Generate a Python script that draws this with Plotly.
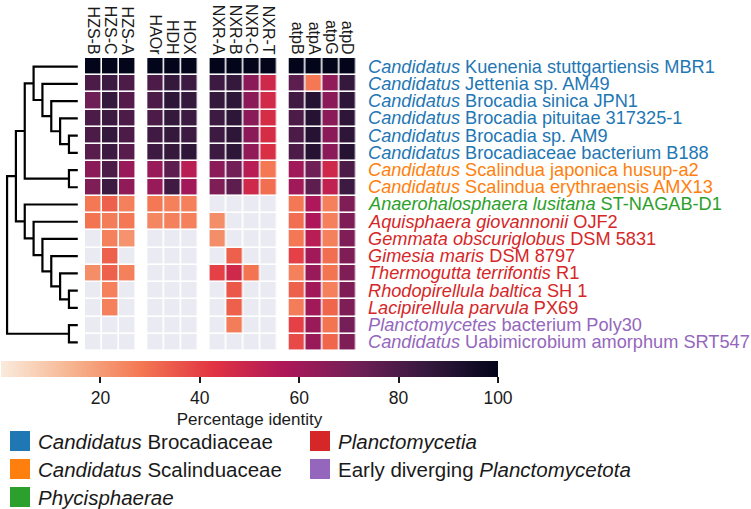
import plotly.graph_objects as go

W, H = 751, 509
N = None

# ---------------- data ----------------
species = [
    "<i>Candidatus</i> Kuenenia stuttgartiensis MBR1",
    "<i>Candidatus</i> Jettenia sp. AM49",
    "<i>Candidatus</i> Brocadia sinica JPN1",
    "<i>Candidatus</i> Brocadia pituitae 317325-1",
    "<i>Candidatus</i> Brocadia sp. AM9",
    "<i>Candidatus</i> Brocadiaceae bacterium B188",
    "<i>Candidatus</i> Scalindua japonica husup-a2",
    "<i>Candidatus</i> Scalindua erythraensis AMX13",
    "<i>Anaerohalosphaera lusitana</i> ST-NAGAB-D1",
    "<i>Aquisphaera giovannonii</i> OJF2",
    "<i>Gemmata obscuriglobus</i> DSM 5831",
    "<i>Gimesia maris</i> DSM 8797",
    "<i>Thermogutta terrifontis</i> R1",
    "<i>Rhodopirellula baltica</i> SH 1",
    "<i>Lacipirellula parvula</i> PX69",
    "<i>Planctomycetes</i> bacterium Poly30",
    "<i>Candidatus</i> Uabimicrobium amorphum SRT547",
]
species_group = [0, 0, 0, 0, 0, 0, 1, 1, 2, 3, 3, 3, 3, 3, 3, 4, 4]

group_names = [
    "<i>Candidatus</i> Brocadiaceae",
    "<i>Candidatus</i> Scalinduaceae",
    "<i>Phycisphaerae</i>",
    "<i>Planctomycetia</i>",
    "Early diverging <i>Planctomycetota</i>",
]
group_colors = ["#1f77b4", "#ff7f0e", "#2ca02c", "#d62728", "#9467bd"]

hzs_genes = ["HZS-B", "HZS-C", "HZS-A"]
hdh_genes = ["HAOr", "HDH", "HOX"]
nxr_genes = ["NXR-A", "NXR-B", "NXR-C", "NXR-T"]
atp_genes = ["atpB", "atpA", "atpG", "atpD"]

hzs_values = [
    [100, 100, 100], [80, 84, 80], [72, 86, 78], [80, 84, 80], [80, 86, 80],
    [77, 84, 77], [65, 80, 62], [68, 84, 64], [28, 33, 26], [29, 27, 28],
    [N, 26, 22], [N, 33, N], [23, 33, 26], [N, 26, N], [N, 26, N],
    [N, N, N], [N, N, N],
]
hdh_values = [
    [100, 100, 100], [80, 86, 84], [80, 88, 86], [80, 86, 84], [83, 86, 84],
    [84, 86, 88], [62, 76, 54], [62, 83, 60], [28, 26, 26], [25, 26, 26],
    [N, N, N], [N, N, N], [N, N, N], [N, N, N], [N, N, N],
    [N, N, N], [N, N, N],
]
nxr_values = [
    [100, 100, 100, 100], [84, 86, 65, 48], [86, 88, 65, 47], [84, 88, 65, 46],
    [84, 88, 65, 46], [84, 88, 64, 45], [65, 71, 54, 28], [68, 76, 48, 30],
    [N, N, N, N], [23, N, N, N], [23, N, N, N], [N, 33, N, N],
    [40, 48, 29, N], [N, 35, N, N], [N, 33, N, N], [N, 27, N, N],
    [N, N, N, N],
]
atp_values = [
    [100, 100, 100, 100], [76, 28, 64, 86], [83, 90, 65, 88], [80, 90, 65, 88],
    [80, 90, 65, 88], [80, 90, 65, 90], [60, 72, 48, 80], [60, 76, 52, 84],
    [28, 57, 26, 68], [30, 57, 26, 68], [28, 54, 26, 68], [40, 60, 30, 68],
    [26, 62, 29, 68], [33, 60, 26, 68], [27, 60, 32, 68], [40, 62, 29, 70],
    [38, 62, 32, 68],
]

# dendrogram merges: (left, right, level); leaves are 0..16, new nodes 17..
tree_merges = [
    (4, 5, 1), (3, 17, 2), (2, 18, 3), (1, 19, 4), (0, 20, 5),
    (6, 7, 1), (21, 22, 6),
    (13, 14, 1), (12, 24, 2), (11, 25, 3), (10, 26, 4), (9, 27, 5), (8, 28, 6),
    (23, 29, 7), (15, 16, 1), (30, 31, 8),
]

colorbar_ticks = [20, 40, 60, 80, 100]

# ---------------- styling ----------------
FONT = "Liberation Sans, Arial, Helvetica, sans-serif"
rocket_r = [
    [0.0, "#faebdd"], [1 / 7, "#f6b48f"], [2 / 7, "#f37651"], [3 / 7, "#e13342"],
    [4 / 7, "#ad1759"], [5 / 7, "#701f57"], [6 / 7, "#35193e"], [1.0, "#03051a"],
]
NAN_COLOR = "#eaeaf2"


def px_x(p):
    return p / W


def px_y(p):
    return 1 - p / H


TOP, BOTTOM = 58, 351
CELL = 16.9
GAP = 11.5
X0 = 85

fig = go.Figure()
blocks = [(hzs_genes, hzs_values), (hdh_genes, hdh_values),
          (nxr_genes, nxr_values), (atp_genes, atp_values)]
nrow = len(species)
start = X0
layout_axes = {}
for bi, (genes, vals) in enumerate(blocks):
    xname = "x" if bi == 0 else f"x{bi + 1}"
    axkey = "xaxis" if bi == 0 else f"xaxis{bi + 1}"
    ncol = len(genes)
    end = start + ncol * CELL
    cols = list(range(ncol))
    rows = list(range(nrow))
    fig.add_trace(go.Heatmap(
        z=[[1] * ncol for _ in rows], x=cols, y=rows,
        colorscale=[[0, NAN_COLOR], [1, NAN_COLOR]], showscale=False,
        xgap=1.6, ygap=1.6, hoverinfo="skip", xaxis=xname, yaxis="y"))
    fig.add_trace(go.Heatmap(
        z=vals, x=cols, y=rows, coloraxis="coloraxis",
        xgap=1.6, ygap=1.6, xaxis=xname, yaxis="y",
        hovertemplate="%{z}<extra></extra>"))
    layout_axes[axkey] = dict(
        domain=[px_x(start), px_x(end)], range=[-0.5, ncol - 0.5],
        anchor="y", side="top", tickmode="array", tickvals=cols, ticktext=genes,
        tickangle=90, ticks="", showgrid=False, zeroline=False, showline=False,
        tickfont=dict(size=16, color="#1a1a1a", family=FONT), fixedrange=True)
    start = end + GAP

# dendrogram
pos_y = {i: float(i) for i in range(nrow)}
lev = {i: 0.0 for i in range(nrow)}
dx, dy = [], []
for k, (a, b, h) in enumerate(tree_merges):
    node = nrow + k
    dx += [lev[a], h, h, lev[b], None]
    dy += [pos_y[a], pos_y[a], pos_y[b], pos_y[b], None]
    pos_y[node] = (pos_y[a] + pos_y[b]) / 2
    lev[node] = h
fig.add_trace(go.Scatter(x=dx, y=dy, mode="lines", xaxis="x5", yaxis="y",
                         line=dict(color="black", width=2.2), hoverinfo="skip",
                         showlegend=False))
layout_axes["xaxis5"] = dict(domain=[0, px_x(80)], range=[8.8, -0.25], visible=False,
                             anchor="y", fixedrange=True)

annotations = []
for i, name in enumerate(species):
    annotations.append(dict(
        x=px_x(366), xref="paper", y=i, yref="y", xanchor="left", yanchor="middle",
        text=name, showarrow=False,
        font=dict(size=18.2, color=group_colors[species_group[i]], family=FONT)))

# group legend
shapes = []
for gi, (gname, gcol) in enumerate(zip(group_names, group_colors)):
    col = 0 if gi < 3 else 1
    row = gi if gi < 3 else gi - 3
    sx = 10 if col == 0 else 310
    cy = 441 + row * 28
    shapes.append(dict(type="rect", xref="paper", yref="paper",
                       x0=px_x(sx), x1=px_x(sx + 20), y0=px_y(cy + 10), y1=px_y(cy - 10),
                       fillcolor=gcol, line=dict(width=0)))
    annotations.append(dict(x=px_x(sx + 26), y=px_y(cy), xref="paper", yref="paper",
                            xanchor="left", yanchor="middle", showarrow=False, text=gname,
                            font=dict(size=20.5, color="#1a1a1a", family=FONT)))

fig.update_layout(
    width=W, height=H, margin=dict(l=0, r=0, t=0, b=0),
    paper_bgcolor="white", plot_bgcolor="white", showlegend=False,
    font=dict(family=FONT, color="#1a1a1a"),
    yaxis=dict(domain=[px_y(BOTTOM), px_y(TOP)], range=[nrow - 0.5, -0.5],
               visible=False, anchor="x", fixedrange=True),
    coloraxis=dict(
        colorscale=rocket_r, cmin=0, cmax=100,
        colorbar=dict(
            orientation="h", x=px_x(1), xanchor="left", y=px_y(361), yanchor="top",
            lenmode="pixels", len=497, thickness=16, xpad=0, ypad=0,
            outlinewidth=0, ticks="outside", ticklen=6, tickwidth=1.8,
            tickcolor="#1a1a1a", tickvals=colorbar_ticks,
            tickfont=dict(size=17.5, color="#1a1a1a", family=FONT),
            title=dict(text="Percentage identity", side="bottom",
                       font=dict(size=17, color="#1a1a1a", family=FONT)))),
    annotations=annotations, shapes=shapes,
    **layout_axes,
)

fig.write_html("out.html")
